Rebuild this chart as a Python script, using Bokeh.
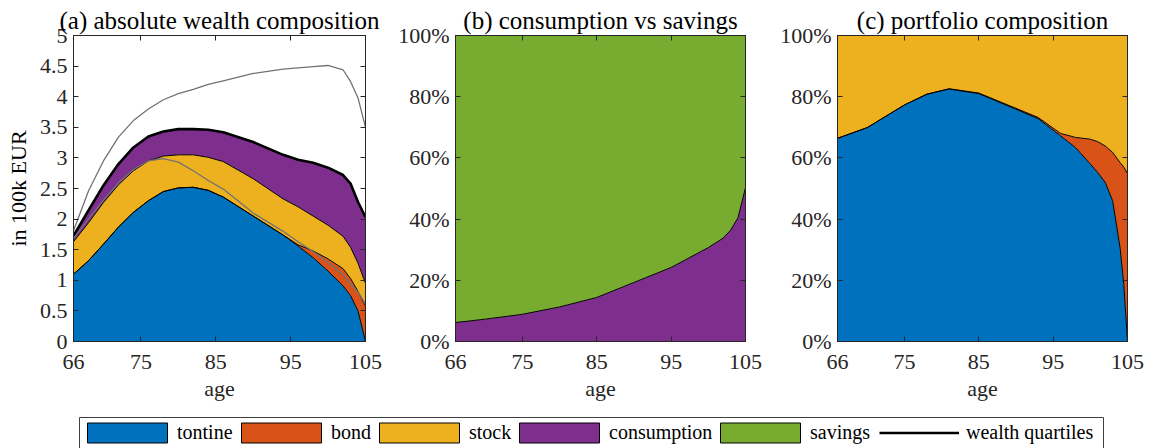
from bokeh.plotting import figure
from bokeh.models import Range1d, FixedTicker, LinearAxis, ColumnDataSource, Legend, LegendItem
from bokeh.layouts import row, column
from bokeh.embed import file_html
from bokeh.resources import INLINE

# ---------------- data ----------------
# (a) absolute wealth composition, in 100k EUR
ages_a = [66, 68, 70, 72, 74, 76, 78, 80, 82, 84, 86, 90, 94, 96, 98, 100, 102, 103, 104, 105]
tontine_a = [1.10, 1.32, 1.59, 1.87, 2.11, 2.30, 2.45, 2.51, 2.52, 2.47, 2.36, 2.05, 1.74, 1.56, 1.37, 1.15, 0.91, 0.75, 0.50, 0.00]
bond_a = [0.00, 0.00, 0.00, 0.00, 0.00, 0.00, 0.00, 0.00, 0.00, 0.00, 0.00, 0.00, 0.00, 0.02, 0.11, 0.20, 0.28, 0.28, 0.32, 0.58]
stock_a = [0.53, 0.62, 0.68, 0.69, 0.68, 0.65, 0.58, 0.54, 0.53, 0.54, 0.58, 0.61, 0.59, 0.62, 0.57, 0.55, 0.53, 0.51, 0.46, 0.37]
consumption_a = [0.10, 0.20, 0.28, 0.34, 0.38, 0.40, 0.40, 0.42, 0.42, 0.45, 0.48, 0.60, 0.72, 0.77, 0.87, 0.94, 1.00, 1.04, 1.00, 1.08]
wealth_upper = [1.81, 2.46, 2.95, 3.34, 3.61, 3.80, 3.95, 4.05, 4.12, 4.20, 4.26, 4.38, 4.45, 4.47, 4.49, 4.51, 4.44, 4.25, 3.98, 3.50]
wealth_lower = [1.68, 2.00, 2.31, 2.59, 2.81, 2.95, 2.99, 2.93, 2.79, 2.63, 2.49, 2.10, 1.80, 1.63, 1.47, 1.29, 1.09, 0.94, 0.81, 0.61]

# (b) consumption vs savings, percent
ages_b = [66, 70, 75, 80, 85, 90, 95, 100, 102, 103, 104, 105]
consumption_b = [6.2, 7.3, 8.9, 11.3, 14.4, 19.3, 24.2, 30.7, 33.8, 36.4, 40.5, 50.3]
savings_b = [100 - c for c in consumption_b]

# (c) portfolio composition, percent
ages_c = [66, 70, 75, 78, 81, 85, 90, 93, 96, 98, 100, 101, 102, 103, 104, 104.5, 105]
tontine_c = [66.4, 69.9, 77.3, 80.8, 82.5, 81.0, 75.9, 72.8, 67.2, 63.4, 58.0, 55.2, 52.0, 46.0, 30.7, 18.7, 0.0]
bond_c = [0.0, 0.0, 0.0, 0.0, 0.1, 0.2, 0.3, 0.4, 0.8, 3.3, 8.1, 10.1, 11.9, 15.8, 27.8, 38.3, 54.9]
stock_c = [100 - t - b for t, b in zip(tontine_c, bond_c)]

x_ticks = [66, 75, 85, 95, 105]
y_ticks_a = [0, 0.5, 1, 1.5, 2, 2.5, 3, 3.5, 4, 4.5, 5]
y_labels_a = ["0", "0.5", "1", "1.5", "2", "2.5", "3", "3.5", "4", "4.5", "5"]
y_ticks_pct = [0, 20, 40, 60, 80, 100]
y_labels_pct = ["0%", "20%", "40%", "60%", "80%", "100%"]

titles = ["(a) absolute wealth composition", "(b) consumption vs savings", "(c) portfolio composition"]
legend_labels = ["tontine", "bond", "stock", "consumption", "savings", "wealth quartiles"]

# ---------------- style ----------------
C_TONTINE = "#0072BD"
C_BOND = "#D95319"
C_STOCK = "#EDB120"
C_CONS = "#7E2F8E"
C_SAV = "#77AC30"
AX = "#262626"
FONT = "Liberation Serif"
GRAY = "#727272"

TOTAL_W = 1150
TOTAL_H = 448
PH = 408


def silent_labels(ax):
    # mirrored box axes: ticks only, no tick labels drawn
    ax.major_label_text_font_size = "0px"
    ax.major_label_text_color = None
    ax.major_label_text_alpha = 0
    ax.major_label_standoff = 0


def make_fig(width, bl, br, ymax, yticks, ylabels, title, ylabel=None):
    p = figure(width=width, height=PH, x_range=Range1d(66, 105), y_range=Range1d(0, ymax),
               output_backend="svg", toolbar_location=None,
               min_border_left=bl, min_border_right=br, min_border_top=35, min_border_bottom=67,
               x_axis_location=None, y_axis_location=None)
    p.grid.visible = False
    p.outline_line_color = AX
    p.outline_line_width = 1
    p.background_fill_color = "white"
    p.border_fill_color = "white"
    p.title.text = title
    p.title.text_font = FONT
    p.title.text_font_size = "25px"
    p.title.text_font_style = "normal"
    p.title.text_color = "black"
    p.title.align = "center"
    p.title.standoff = 4

    def axis_common(ax, ticks):
        ax.ticker = FixedTicker(ticks=ticks)
        ax.axis_line_color = AX
        ax.axis_line_width = 1
        ax.major_tick_line_color = AX
        ax.major_tick_in = 5
        ax.major_tick_out = 0
        ax.minor_tick_line_color = None
        ax.major_label_text_font = FONT
        ax.major_label_text_color = AX

    xb = LinearAxis(axis_label="age")
    axis_common(xb, x_ticks)
    xb.major_label_text_font_size = "22px"
    xb.major_label_standoff = 13
    xb.axis_label_text_font = FONT
    xb.axis_label_text_font_size = "22px"
    xb.axis_label_text_font_style = "normal"
    xb.axis_label_text_color = AX
    xb.axis_label_standoff = 4
    p.add_layout(xb, "below")

    yl = LinearAxis()
    axis_common(yl, yticks)
    yl.major_label_overrides = {t: l for t, l in zip(yticks, ylabels)}
    yl.major_label_text_font_size = "22px"
    yl.major_label_standoff = 6
    if ylabel:
        yl.axis_label = ylabel
        yl.axis_label_text_font = FONT
        yl.axis_label_text_font_size = "22px"
        yl.axis_label_text_font_style = "normal"
        yl.axis_label_text_color = "black"
        yl.axis_label_standoff = 6
    p.add_layout(yl, "left")

    xt = LinearAxis()
    axis_common(xt, x_ticks)
    silent_labels(xt)
    p.add_layout(xt, "above")

    yr = LinearAxis()
    axis_common(yr, yticks)
    silent_labels(yr)
    p.add_layout(yr, "right")
    return p


# ---------------- panel (a) ----------------
pa = make_fig(385, 73, 20, 5, y_ticks_a, y_labels_a, titles[0], ylabel="in 100k EUR")
src_a = ColumnDataSource(dict(age=ages_a, tontine=tontine_a, bond=bond_a, stock=stock_a,
                              consumption=consumption_a, upper=wealth_upper, lower=wealth_lower))
stack_a = ["tontine", "bond", "stock", "consumption"]
pa.varea_stack(stack_a, x="age", source=src_a, fill_color=[C_TONTINE, C_BOND, C_STOCK, C_CONS])
pa.vline_stack(stack_a, x="age", source=src_a, line_color="black", line_width=[1, 1, 1, 2.6])
pa.line(x="age", y="upper", source=src_a, line_color=GRAY, line_width=1.3)
pa.line(x="age", y="lower", source=src_a, line_color=GRAY, line_width=1.3)

# ---------------- panel (b) ----------------
pb = make_fig(378, 70, 18, 100, y_ticks_pct, y_labels_pct, titles[1])
src_b = ColumnDataSource(dict(age=ages_b, consumption=consumption_b, savings=savings_b))
pb.varea_stack(["consumption", "savings"], x="age", source=src_b, fill_color=[C_CONS, C_SAV])
pb.line(x="age", y="consumption", source=src_b, line_color="black", line_width=1)

# ---------------- panel (c) ----------------
pc = make_fig(TOTAL_W - 385 - 378, 74, 23, 100, y_ticks_pct, y_labels_pct, titles[2])
src_c = ColumnDataSource(dict(age=ages_c, tontine=tontine_c, bond=bond_c, stock=stock_c))
pc.varea_stack(["tontine", "bond", "stock"], x="age", source=src_c, fill_color=[C_TONTINE, C_BOND, C_STOCK])
pc.vline_stack(["tontine", "bond"], x="age", source=src_c, line_color="black", line_width=1)

# ---------------- legend strip ----------------
LH = TOTAL_H - PH
BOX_L = 79
pl = figure(width=TOTAL_W, height=LH, output_backend="svg", toolbar_location=None,
            min_border_left=BOX_L, min_border_right=TOTAL_W - 1103, min_border_top=9, min_border_bottom=0,
            x_axis_location=None, y_axis_location=None,
            x_range=Range1d(0, 1), y_range=Range1d(0, 1))
pl.grid.visible = False
pl.outline_line_color = None
for side in ["left", "right", "above"]:
    ax = LinearAxis(ticker=FixedTicker(ticks=[]))
    ax.axis_line_color = "#404040"
    ax.axis_line_width = 1
    ax.major_tick_line_color = None
    ax.minor_tick_line_color = None
    ax.major_tick_in = 0
    ax.major_tick_out = 0
    silent_labels(ax)
    pl.add_layout(ax, side)

leg_common = dict(orientation="horizontal", glyph_height=25, padding=0, margin=0, spacing=0,
                  label_text_font=FONT, label_text_font_size="20px", label_text_color="black",
                  border_line_color=None, background_fill_alpha=0, inactive_fill_alpha=0)

# screen x of each legend swatch (patch left edge / line start)
patch_x = [87, 241, 379, 519, 720]
for lab, col, px in zip(legend_labels[:5], [C_TONTINE, C_BOND, C_STOCK, C_CONS, C_SAV], patch_x):
    r = pl.quad(left=[0], right=[0], top=[0], bottom=[0], fill_color=col, line_color="black",
                line_width=1, visible=False)
    lg = Legend(items=[LegendItem(label=lab, renderers=[r])], location=(px - 10 - BOX_L, 3),
                glyph_width=100, label_standoff=0, **leg_common)
    pl.add_layout(lg, "center")

rl = pl.line(x=[0], y=[0], line_color="black", line_width=2.4, visible=False)
lg = Legend(items=[LegendItem(label=legend_labels[5], renderers=[rl])], location=(879 - BOX_L, 3),
            glyph_width=80, label_standoff=7, **leg_common)
pl.add_layout(lg, "center")

layout = column(row(pa, pb, pc), pl)
open("out.html", "w").write(file_html(layout, INLINE))
